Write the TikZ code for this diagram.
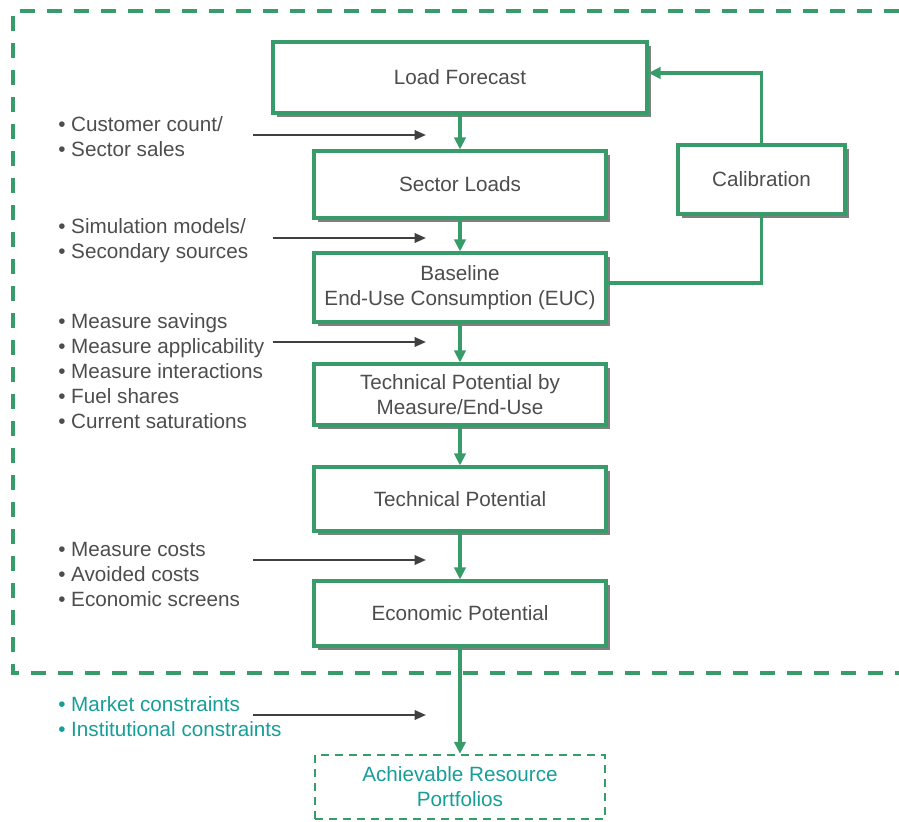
\documentclass[tikz,border=0pt]{standalone}
\usepackage{fontspec}
\setmainfont{Liberation Sans}
\usetikzlibrary{arrows.meta,shadows}
\definecolor{boxgreen}{RGB}{56,156,106}
\definecolor{textgray}{RGB}{77,77,77}
\definecolor{arrowgray}{RGB}{64,64,64}
\definecolor{shadowgray}{RGB}{128,128,128}
\definecolor{tealtext}{RGB}{22,158,152}
\begin{document}
\begin{tikzpicture}[x=0.75pt,y=-0.75pt,
	every node/.style={font=\fontsize{15.5}{18.75}\selectfont, text=textgray},
	stage/.style={draw=boxgreen, line width=2.3pt, fill=white, align=center,
		drop shadow={shadow xshift=3.2pt, shadow yshift=-3.2pt, fill=shadowgray, opacity=1}},
	goal/.style={draw=boxgreen, line width=1.7pt, dash pattern=on 6pt off 4.5pt, align=center, text=tealtext},
	flow/.style={draw=boxgreen, line width=2.3pt, -{Triangle[length=9pt,width=8.5pt]}},
	feed/.style={draw=arrowgray, line width=1.7pt, -{Triangle[length=8.5pt,width=7pt]}},
	inputs/.style={anchor=west, align=left, inner sep=0pt},
	frame/.style={draw=boxgreen, line width=2.7pt, dash pattern=on 11.25pt off 9pt}]
	\useasboundingbox (0,0) rectangle (899,821);

	% dashed frame, open on the right
	\draw[frame] (899,11) -- (13,11) -- (13,673) -- (899,673);

	% main chain
	\node[stage, minimum width=280.5pt, minimum height=53.25pt] (forecast) at (460,77.5) {Load Forecast};
	\node[stage, minimum width=219pt, minimum height=50.25pt] (sector) at (460,184.5) {Sector Loads};
	\node[stage, minimum width=219pt, minimum height=51.75pt] (euc) at (460,287.5) {Baseline\\End-Use Consumption (EUC)};
	\node[stage, minimum width=219pt, minimum height=45.75pt] (techm) at (460,394.5) {Technical Potential by\\Measure/End-Use};
	\node[stage, minimum width=219pt, minimum height=48pt] (tech) at (460,499) {Technical Potential};
	\node[stage, minimum width=219pt, minimum height=48.75pt] (econ) at (460,613.5) {Economic Potential};
	\node[stage, minimum width=125.25pt, minimum height=51.75pt] (calib) at (761.5,179.5) {Calibration};
	\node[goal, minimum width=217.5pt, minimum height=48pt] (achieve) at (460,787) {Achievable Resource\\Portfolios};

	\draw[flow] (forecast) -- (sector);
	\draw[flow] (sector) -- (euc);
	\draw[flow] (euc) -- (techm);
	\draw[flow] (techm) -- (tech);
	\draw[flow] (tech) -- (econ);
	\draw[flow] (econ) -- (achieve);
	\draw[flow] (calib.north) |- ([yshift=3.4pt]forecast.east);
	\draw[flow, -] (calib.south) |- ([yshift=3.4pt]euc.east);

	% inputs on the left
	\node[inputs] (count) at (58,137) {• Customer count/\\• Sector sales};
	\node[inputs] (models) at (58,241) {• Simulation models/\\• Secondary sources};
	\node[inputs] (measures) at (58,371) {• Measure savings\\• Measure applicability\\• Measure interactions\\• Fuel shares\\• Current saturations};
	\node[inputs] (costs) at (58,574) {• Measure costs\\• Avoided costs\\• Economic screens};
	\node[inputs, text=tealtext] (limits) at (58,717) {• Market constraints\\• Institutional constraints};

	\foreach \n/\xa/\ya in {1/253/135, 2/273/238, 3/273/342, 4/253/560, 5/253/715} {
		\coordinate (from\n) at (\xa,\ya);
		\coordinate (to\n) at (426,\ya);
		\draw[feed] (from\n) -- (to\n);
	}
\end{tikzpicture}
\end{document}
